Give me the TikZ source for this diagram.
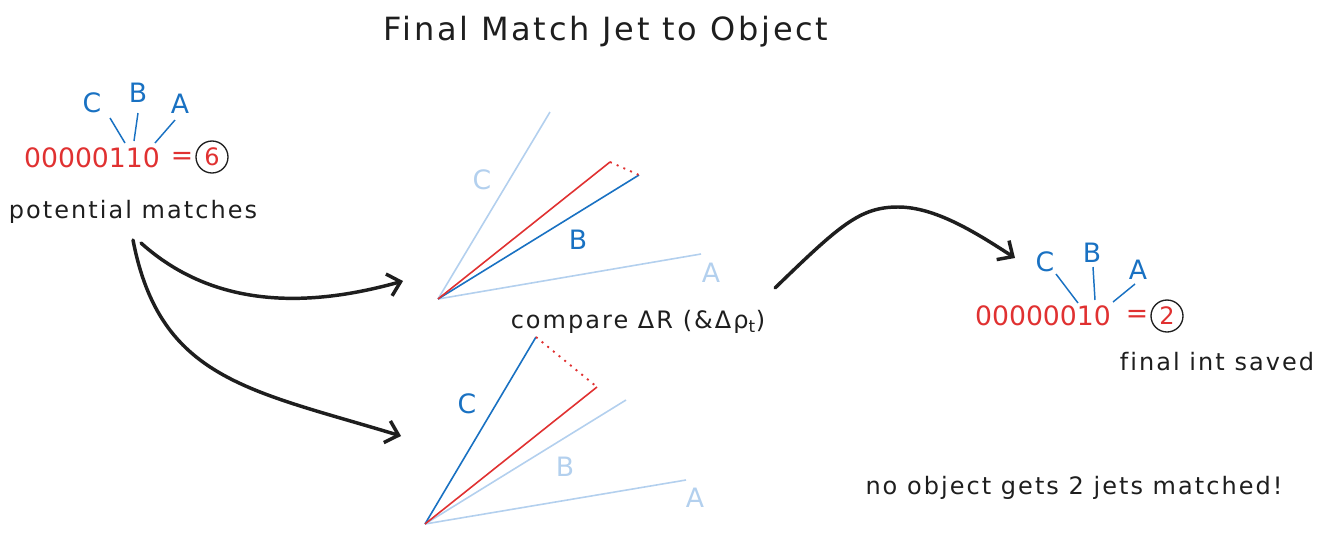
\documentclass[tikz,border=0pt]{standalone}
\usepackage{fontspec}
\setmainfont{DejaVu Sans}
\newfontfamily\hand[LetterSpace=8.5,Ligatures={NoCommon}]{DejaVu Sans}
\usetikzlibrary{arrows.meta}
\definecolor{ink}{HTML}{1E1E1E}
\definecolor{jblue}{HTML}{1971C2}
\definecolor{jred}{HTML}{E03131}
\definecolor{jlight}{HTML}{B3D0EE}
\tikzset{
  txt/.style={font=\hand\fontsize{18}{20}\selectfont, text=ink, inner sep=0pt},
  lbl/.style={font=\fontsize{20}{22}\selectfont, text=jblue, inner sep=0pt},
  lbllight/.style={lbl, text=jlight},
  bits/.style={font=\fontsize{20}{22}\selectfont, text=jred, inner sep=0pt},
  num/.style={circle, draw=ink, line width=1pt, minimum size=24pt, inner sep=0pt, font=\fontsize{18}{20}\selectfont, text=jred},
  tick/.style={draw=jblue, line width=1.1pt},
  jet/.style={draw=jblue, line width=1.2pt},
  jetlight/.style={draw=jlight, line width=1.2pt},
  obj/.style={draw=jred, line width=1.2pt},
  gap/.style={draw=jred, line width=1.4pt, dash pattern=on 1.5pt off 4pt},
  flow/.style={draw=ink, line width=2.6pt, line cap=round, -{Straight Barb[length=9pt,width=17pt,line width=2.6pt]}},
}
\begin{document}
\begin{tikzpicture}[x=0.75pt,y=-0.75pt]
\useasboundingbox (0,0) rectangle (1328,536);
% title
\node[txt, font=\hand\fontsize{24}{26}\selectfont] (title) at (606,32) {Final Match Jet to Object};

% ---- left: potential matches
\node[lbl] (lC) at (92,103) {C};
\node[lbl] (lB) at (138,93) {B};
\node[lbl] (lA) at (180,104) {A};
\node[bits] (lbits) at (92,158) {00000110};
\node[bits] (leq) at (182,158) {=};
\node[num] (lsix) at (212,157) {6};
\node[txt] (pm) at (133,212) {potential matches};
\coordinate (lCe) at (125,143);
\coordinate (lBe) at (134,141);
\coordinate (lAe) at (155,143);
\draw[tick] (110,118) coordinate (lCs) -- (lCe);
\draw[tick] (138,113) coordinate (lBs) -- (lBe);
\draw[tick] (175,120) coordinate (lAs) -- (lAe);

% ---- top fan
\coordinate (o1) at (438,299);
\coordinate (c1) at (550,112);
\coordinate (r1) at (610,162);
\coordinate (b1) at (639,175);
\coordinate (a1) at (701,254);
\draw[jetlight] (o1) -- (c1);
\draw[jetlight] (o1) -- (a1);
\draw[jet] (o1) -- (b1);
\draw[obj] (o1) -- (r1);
\draw[gap] (r1) -- (b1);
\node[lbllight] (t1C) at (482,180) {C};
\node[lbl] (t1B) at (578,240) {B};
\node[lbllight] (t1A) at (711,273) {A};
\node[txt] (cmp) at (638,322) {compare ΔR (\&Δρ\textsubscript{t})};

% ---- bottom fan
\coordinate (o2) at (425,524);
\coordinate (c2) at (536,337);
\coordinate (r2) at (597,387);
\coordinate (b2) at (626,400);
\coordinate (a2) at (686,480);
\draw[jetlight] (o2) -- (b2);
\draw[jetlight] (o2) -- (a2);
\draw[jet] (o2) -- (c2);
\draw[obj] (o2) -- (r2);
\draw[gap] (c2) -- (r2);
\node[lbl] (t2C) at (467,404) {C};
\node[lbllight] (t2B) at (565,467) {B};
\node[lbllight] (t2A) at (695,498) {A};

% ---- right: final int
\node[lbl] (rC) at (1045,262) {C};
\node[lbl] (rB) at (1092,253) {B};
\node[lbl] (rA) at (1138,270) {A};
\node[bits] (rbits) at (1043,316) {00000010};
\node[bits] (req) at (1137,316) {=};
\node[num] (rtwo) at (1167,316) {2};
\node[txt] (fis) at (1217,362) {final int saved};
\coordinate (rCe) at (1078,303);
\coordinate (rBe) at (1095,300);
\coordinate (rAe) at (1113,302);
\draw[tick] (1056,274) coordinate (rCs) -- (rCe);
\draw[tick] (1093,267) coordinate (rBs) -- (rBe);
\draw[tick] (1135,284) coordinate (rAs) -- (rAe);

\node[txt] (note) at (1074,488) {no object gets 2 jets matched!};

% ---- flow arrows
\coordinate (s1) at (141,243);
\coordinate (e1) at (403,281);
\coordinate (s2) at (133,240);
\coordinate (e2) at (401,436);
\coordinate (s3) at (775,288);
\coordinate (m3) at (898,207);
\coordinate (e3) at (1015,258);
\draw[flow] (s1) .. controls (210,305) and (300,310) .. (e1);
\draw[flow] (s2) .. controls (160,380) and (250,390) .. (e2);
\draw[flow] (s3) .. controls (840,225) and (860,207) .. (m3) .. controls (935,207) and (975,232) .. (e3);
\end{tikzpicture}
\end{document}
